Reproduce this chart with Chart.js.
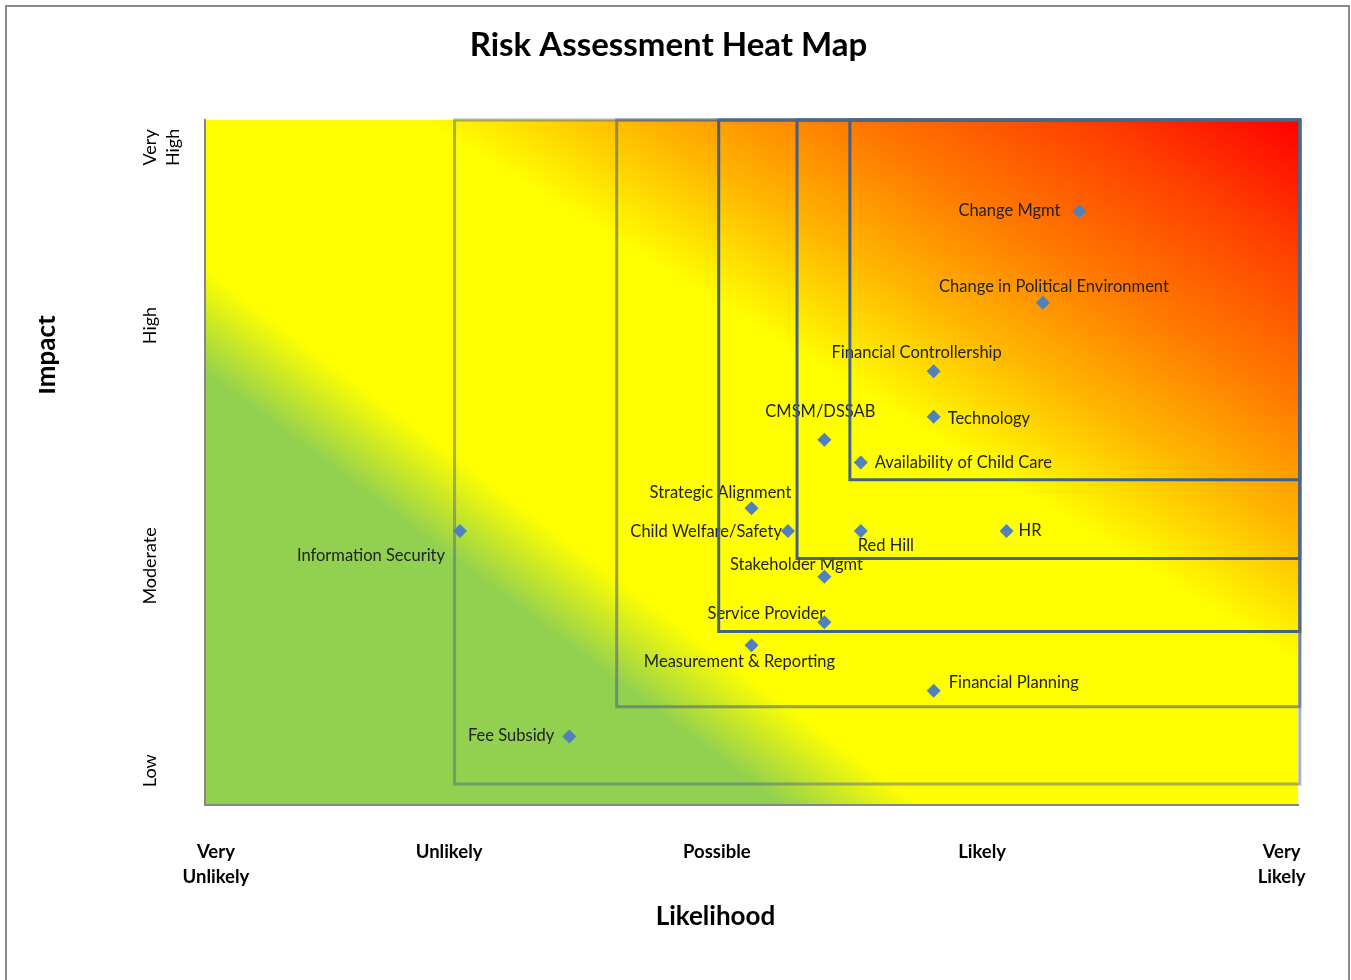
<!DOCTYPE html>
<html>
<head>
<meta charset="utf-8">
<title>Risk Assessment Heat Map</title>
<script src="https://cdn.jsdelivr.net/npm/chart.js@4.4.1/dist/chart.umd.min.js"></script>
<style>
    html, body { margin: 0; padding: 0; background: #fff; overflow: hidden; }
    #frame { position: absolute; left: 5px; top: 5px; width: 1341px; height: 1200px; border: 2px solid #888; }
    #heatmap { position: absolute; left: 39px; top: 0; }
</style>
</head>
<body>
<div id="frame"></div>
<canvas id="heatmap" width="1312" height="980"></canvas>
<script>
    // risks: likelihood (x) and impact (y), both scored 0..30
    var riskNames = [
        'Change Mgmt', 'Change in Political Environment', 'Financial Controllership', 'Technology',
        'CMSM/DSSAB', 'Availability of Child Care', 'Strategic Alignment', 'Child Welfare/Safety',
        'Red Hill', 'HR', 'Information Security', 'Stakeholder Mgmt',
        'Service Provider', 'Measurement & Reporting', 'Financial Planning', 'Fee Subsidy'
    ];
    var likelihood = [24, 23, 20, 20, 17, 18, 15, 16, 18, 22, 7, 17, 17, 15, 20, 10];
    var impact = [26, 22, 19, 17, 16, 15, 13, 12, 12, 12, 12, 10, 8, 7, 5, 3];

    // nested risk zones, lower-left corner of each (they all run to the top right)
    var zoneLikelihood = [6.85, 11.3, 14.1, 16.25, 17.7];
    var zoneImpact = [0.92, 4.3, 7.6, 10.8, 14.25];
    var zoneTop = 30;
    var zoneRight = 30.05;

    var xTickLabels = [['Very', 'Unlikely'], ['Unlikely'], ['Possible'], ['Likely'], ['Very', 'Likely']];
    var xTickValues = [0.3, 6.7, 14.05, 21.33, 29.55];
    var yTickLabels = [['Low'], ['Moderate'], ['High'], ['Very', 'High']];
    var yTickValues = [1.5, 10.47, 21.0, 28.8];

    // label placement per risk: text align, dx, dy (px from the marker)
    var labelPlace = [
        ['right', -19, -1], ['center', 11, -16], ['center', -17, -18], ['left', 14, 2],
        ['center', -4, -28], ['left', 14, 0], ['center', -31, -15], ['right', -6, 1],
        ['left', -3, 15], ['left', 12, 0], ['right', -15, 25], ['center', -28, -12],
        ['center', -58, -9], ['center', -12, 17], ['left', 15, -8], ['right', -15, -1]
    ];
    var zoneColors = [
        'rgba(84, 104, 130, 0.5)', 'rgba(84, 104, 130, 0.62)',
        'rgba(58, 92, 140, 0.95)', 'rgba(58, 92, 140, 0.95)', 'rgba(58, 92, 140, 0.95)'
    ];

    var FONT = 'Lato';

    function diagonalGradient(ctx, a, slope) {
        // iso-colour lines run down-right with the given slope
        var norm = Math.sqrt(slope * slope + 1);
        var nx = slope / norm, ny = -1 / norm;
        var len = (a.right - a.left) * nx - (a.bottom - a.top) * ny;
        return ctx.createLinearGradient(a.left, a.bottom, a.left + nx * len, a.bottom + ny * len);
    }

    // yellow -> red fill, then the green corner laid over it
    var heatBackground = {
        id: 'heatBackground',
        beforeDraw: function (chart) {
            var a = chart.chartArea, ctx = chart.ctx;
            var w = a.right - a.left, h = a.bottom - a.top;
            var warm = diagonalGradient(ctx, a, 0.62);
            warm.addColorStop(0, '#FFFF00');
            warm.addColorStop(0.6, '#FFFF00');
            warm.addColorStop(0.7, '#FFB400');
            warm.addColorStop(0.795, '#FF7800');
            warm.addColorStop(0.9, '#FF4000');
            warm.addColorStop(1, '#FF0000');
            var cool = diagonalGradient(ctx, a, 0.75);
            cool.addColorStop(0, 'rgba(146, 208, 80, 1)');
            cool.addColorStop(0.287, 'rgba(146, 208, 80, 1)');
            cool.addColorStop(0.357, 'rgba(146, 208, 80, 0)');
            cool.addColorStop(1, 'rgba(146, 208, 80, 0)');
            ctx.save();
            ctx.fillStyle = warm;
            ctx.fillRect(a.left, a.top, w, h);
            ctx.fillStyle = cool;
            ctx.fillRect(a.left, a.top, w, h);
            ctx.restore();
        }
    };

    // risk names next to the markers, under the zone outlines
    var riskLabels = {
        id: 'riskLabels',
        beforeDatasetsDraw: function (chart) {
            var meta = chart.getDatasetMeta(0), ctx = chart.ctx;
            ctx.save();
            ctx.font = '16.5px ' + FONT;
            ctx.fillStyle = '#222';
            ctx.textBaseline = 'middle';
            meta.data.forEach(function (pt, i) {
                var p = labelPlace[i];
                ctx.textAlign = p[0];
                ctx.fillText(riskNames[i], pt.x + p[1], pt.y + p[2]);
            });
            ctx.restore();
        }
    };

    // axis titles sit off-centre in the original
    var axisTitles = {
        id: 'axisTitles',
        afterDraw: function (chart) {
            var a = chart.chartArea, ctx = chart.ctx;
            ctx.save();
            ctx.font = 'bold 26px ' + FONT;
            ctx.fillStyle = '#000';
            ctx.textAlign = 'center';
            ctx.textBaseline = 'middle';
            ctx.fillText('Likelihood', a.left + 0.467 * (a.right - a.left), a.bottom + 112);
            ctx.translate(a.left - 158, a.top + 0.343 * (a.bottom - a.top));
            ctx.rotate(-Math.PI / 2);
            ctx.fillText('Impact', 0, 0);
            ctx.restore();
        }
    };

    var datasets = [{
        label: 'Risks',
        data: riskNames.map(function (n, i) { return { x: likelihood[i], y: impact[i] }; }),
        pointStyle: 'rectRot',
        pointRadius: 7,
        pointHoverRadius: 7,
        backgroundColor: '#4F81BD',
        borderColor: '#4F81BD',
        borderWidth: 0,
        clip: false
    }];
    zoneLikelihood.forEach(function (x0, i) {
        var y0 = zoneImpact[i];
        datasets.push({
            label: 'Zone ' + (i + 1),
            data: [
                { x: x0, y: y0 }, { x: x0, y: zoneTop }, { x: zoneRight, y: zoneTop },
                { x: zoneRight, y: y0 }, { x: x0, y: y0 }
            ],
            showLine: true,
            fill: false,
            borderColor: zoneColors[i],
            borderWidth: 3,
            borderJoinStyle: 'miter',
            borderCapStyle: 'square',
            pointRadius: 0,
            pointHoverRadius: 0,
            tension: 0,
            clip: false
        });
    });

    new Chart(document.getElementById('heatmap'), {
        type: 'scatter',
        data: { datasets: datasets },
        plugins: [heatBackground, riskLabels, axisTitles],
        options: {
            responsive: false,
            animation: false,
            events: [],
            layout: { padding: { left: 0, right: 53, top: 0, bottom: 0 } },
            plugins: {
                legend: { display: false },
                tooltip: { enabled: false },
                title: {
                    display: true,
                    text: 'Risk Assessment Heat Map',
                    color: '#000',
                    font: { family: FONT, size: 33, weight: 'bold', lineHeight: 1.2 },
                    padding: { top: 25.2, bottom: 55.2 }
                }
            },
            scales: {
                x: {
                    type: 'linear',
                    min: 0,
                    max: 30,
                    grid: { display: false, drawTicks: false },
                    border: { display: true, color: '#868686', width: 2 },
                    afterBuildTicks: function (scale) {
                        scale.ticks = xTickValues.map(function (v) { return { value: v }; });
                    },
                    afterFit: function (scale) { scale.height = 175; },
                    ticks: {
                        autoSkip: false,
                        maxRotation: 0,
                        padding: 34.5,
                        color: '#000',
                        font: { family: FONT, size: 18.5, weight: 'bold', lineHeight: '25px' },
                        callback: function (value, index) { return xTickLabels[index]; }
                    }
                },
                y: {
                    type: 'linear',
                    min: 0,
                    max: 30,
                    grid: { display: false, drawTicks: false },
                    border: { display: true, color: '#868686', width: 2 },
                    afterBuildTicks: function (scale) {
                        scale.ticks = yTickValues.map(function (v) { return { value: v }; });
                    },
                    afterFit: function (scale) { scale.width = 166; },
                    ticks: {
                        autoSkip: false,
                        minRotation: 90,
                        maxRotation: 90,
                        crossAlign: 'center',
                        padding: 5,
                        color: '#000',
                        font: { family: FONT, size: 18, lineHeight: '23px' },
                        // pad to two lines so the first line lines up on every label
                        callback: function (value, index) {
                            var l = yTickLabels[index];
                            return l.length === 1 ? [l[0], ''] : l;
                        }
                    }
                }
            }
        }
    });
</script>
</body>
</html>
